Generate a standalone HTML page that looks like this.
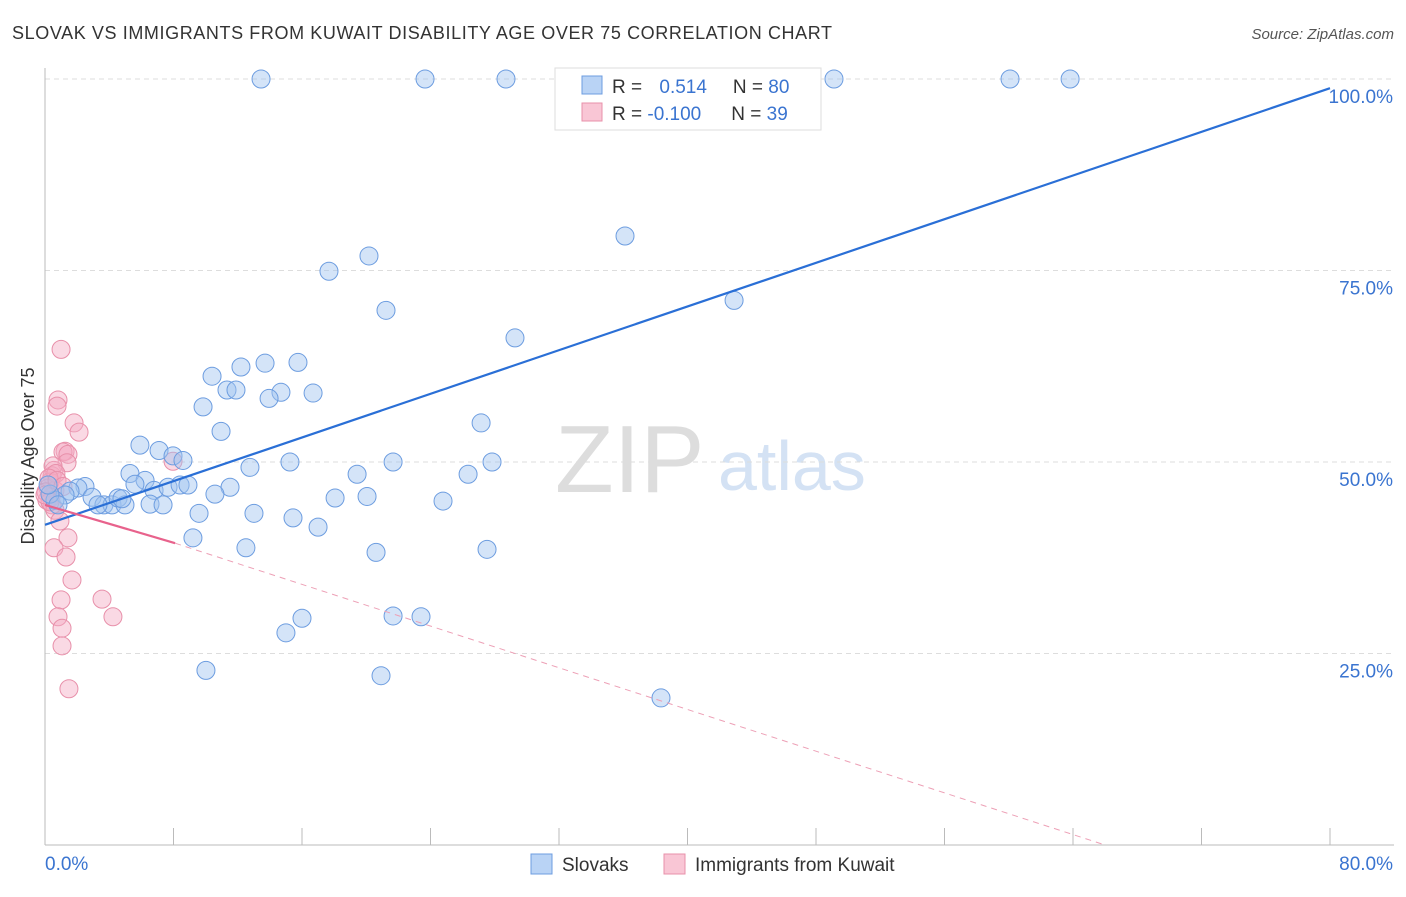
<!DOCTYPE html>
<html><head><meta charset="utf-8"><style>
body{margin:0;background:#fff;font-family:"Liberation Sans",sans-serif;}
svg text{font-family:"Liberation Sans",sans-serif;}
</style></head><body>
<svg id="chart" width="1406" height="892">
<text x="12" y="39" font-size="18" letter-spacing="0.6" fill="#333">SLOVAK VS IMMIGRANTS FROM KUWAIT DISABILITY AGE OVER 75 CORRELATION CHART</text>
<text x="1394" y="39" font-size="15" fill="#555" text-anchor="end" font-style="italic">Source: ZipAtlas.com</text>
<text x="555" y="492" font-size="96" fill="#ddd" font-family="Liberation Serif">ZIP</text>
<text x="718" y="490" font-size="70" fill="#d4e2f4">atlas</text>
<text transform="translate(34,456) rotate(-90)" font-size="18" fill="#333" text-anchor="middle">Disability Age Over 75</text>
<g id="grid"></g><g id="axes"></g><g id="pts"></g><g id="trend"></g>
<g>
<rect x="555" y="68" width="266" height="62" fill="#fff" stroke="#ddd"/>
<rect x="582" y="76" width="20" height="18" fill="#b9d3f5" stroke="#6d9de0"/>
<rect x="582" y="103" width="20" height="18" fill="#f9c6d5" stroke="#e890aa"/>
<text x="612" y="93" font-size="19" fill="#333">R = <tspan fill="#3a74d0" dx="12">0.514</tspan><tspan fill="#333" dx="26">N = </tspan><tspan fill="#3a74d0">80</tspan></text>
<text x="612" y="120" font-size="19" fill="#333">R = <tspan fill="#3a74d0">-0.100</tspan><tspan fill="#333" dx="30">N = </tspan><tspan fill="#3a74d0">39</tspan></text>
</g>
<g>
<rect x="531" y="854" width="21" height="20" fill="#b9d3f5" stroke="#6d9de0"/>
<text x="562" y="871" font-size="19" fill="#333">Slovaks</text>
<rect x="664" y="854" width="21" height="20" fill="#f9c6d5" stroke="#e890aa"/>
<text x="695" y="871" font-size="19" fill="#333">Immigrants from Kuwait</text>
</g>
</svg>
<script>
const blueX=[13.45,23.66,28.70,49.12,60.08,63.82,36.11,20.17,17.68,42.90,21.23,29.26,13.70,15.75,12.20,10.40,14.69,16.69,11.33,11.89,13.95,9.84,10.96,27.15,5.91,7.10,7.97,8.59,12.76,15.25,21.67,27.83,19.43,26.34,5.29,6.23,5.60,6.79,7.66,8.41,8.90,11.52,10.58,18.06,20.05,24.78,2.49,2.05,1.56,1.25,2.93,3.67,4.17,4.55,4.98,4.79,3.30,6.54,7.35,9.59,13.01,15.44,17.00,9.21,12.51,20.61,27.52,16.00,15.00,21.67,23.41,10.02,20.92,38.35,0.62,0.31,0.19,0.81];
const blueY=[100,100,100,100,100,100,79.5,76.9,74.9,71.1,69.8,66.2,62.9,63.0,62.4,61.2,59.1,59.0,59.4,59.4,58.3,57.2,54.0,55.1,52.2,51.5,50.8,50.2,49.3,50.0,50.0,50.0,48.4,48.4,48.5,47.6,47.1,46.3,46.7,47.0,47.0,46.7,45.8,45.3,45.5,44.9,46.8,46.6,46.2,45.7,45.4,44.4,44.4,45.3,44.4,45.2,44.4,44.5,44.4,43.3,43.3,42.7,41.5,40.1,38.8,38.2,38.6,29.6,27.7,29.9,29.8,22.8,22.1,19.2,45.0,45.8,47.0,44.4];
const pinkX=[1.0,0.81,0.75,1.81,2.12,1.25,1.12,1.43,1.37,7.97,0.56,0.44,0.31,0.19,0.62,0.37,0.12,0.44,0.62,0.93,1.43,0.56,1.31,1.68,1.0,3.55,4.23,0.81,1.06,1.06,1.49,0.5,0.68,0.25,0.06,0.31,0.75,1.12,0];
const pinkY=[64.7,58.1,57.3,55.1,53.9,51.4,51.3,51.0,49.9,50.1,48.9,48.2,47.4,46.6,46.3,45.4,45.0,44.4,43.7,42.3,40.1,38.8,37.6,34.6,32.0,32.1,29.8,29.8,28.3,26.0,20.4,49.5,48.5,47.9,46.1,44.8,47.6,46.8,45.7];
const yTicks=[25,50,75,100];
const xTickVals=[0,8,16,24,32,40,48,56,64,72,80];
const blueTrend=[[0,41.8],[80,98.8]];
const pinkTrendSolid=[[0,44.4],[8.1,39.4]];
const pinkTrendDash=[[8.1,39.4],[66.0,0]];
const NS='http://www.w3.org/2000/svg';
const sx=v=>45+v/80*1285, sy=v=>845-v/100*766;
function mk(tag,attrs,parent){const e=document.createElementNS(NS,tag);for(const k in attrs)e.setAttribute(k,attrs[k]);document.getElementById(parent).appendChild(e);return e;}
yTicks.forEach(t=>{
 const l=mk('line',{x1:45,x2:1394,y1:sy(t),y2:sy(t),stroke:'#ddd','stroke-dasharray':'5,4'},'grid');
 
 
 const tx=mk('text',{x:1393,y:sy(t)+24,'font-size':19,fill:'#3a74d0','text-anchor':'end'},'grid');
 tx.textContent=t.toFixed(1)+'%';
 
 
});
let a=mk('line',{x1:45,x2:45,y1:68,y2:845,stroke:'#bbb'},'axes');


a=mk('line',{x1:45,x2:1394,y1:845,y2:845,stroke:'#bbb'},'axes');


xTickVals.forEach(t=>{
 const l=mk('line',{x1:sx(t),x2:sx(t),y1:828,y2:845,stroke:'#bbb'},'axes');
 
 
});
[[0,'start'],[80,'end']].forEach(([t,an])=>{
 const tx=mk('text',{x:t===0?45:1393,y:870,'font-size':19,fill:'#3a74d0','text-anchor':an},'axes');
 tx.textContent=t.toFixed(1)+'%';
 
 
});
pinkX.forEach((x,i)=>{
 const c=mk('circle',{cx:sx(x),cy:sy(pinkY[i]),r:9,fill:'rgba(245,170,195,0.45)',stroke:'#e890aa','stroke-width':1},'pts');
 
 
});
blueX.forEach((x,i)=>{
 const c=mk('circle',{cx:sx(x),cy:sy(blueY[i]),r:9,fill:'rgba(160,195,240,0.45)',stroke:'#6d9de0','stroke-width':1},'pts');
 
 
});
function ln(p,st,w,dash,name){const l=mk('line',{x1:sx(p[0][0]),y1:sy(p[0][1]),x2:sx(p[1][0]),y2:sy(p[1][1]),stroke:st,'stroke-width':w},'trend');if(dash)l.setAttribute('stroke-dasharray',dash);
 
 }
ln(blueTrend,'#2a6fd6',2.2,null,'slovaks-trend-line');
ln(pinkTrendSolid,'#e8628c',2.2,null,'kuwait-trend-line');
ln(pinkTrendDash,'#eda0b6',1,'6,5','kuwait-trend-extension');
</script>
</body></html>
